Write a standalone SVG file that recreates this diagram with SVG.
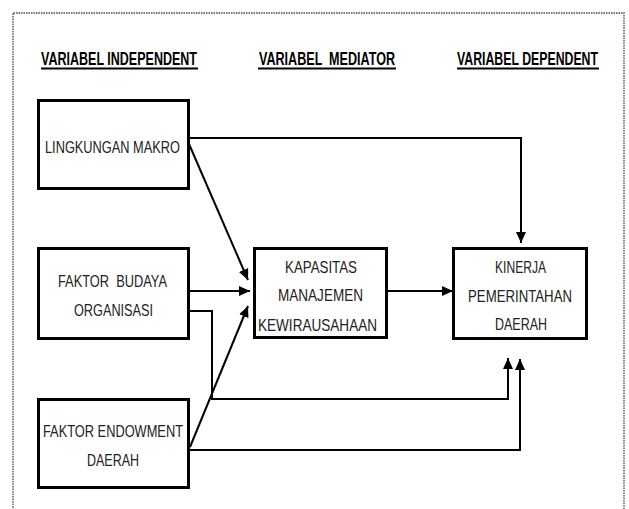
<svg xmlns="http://www.w3.org/2000/svg" width="629" height="509" viewBox="0 0 629 509">
<style>
.hdr{font-family:"Liberation Sans","Open Sans",sans-serif;font-weight:bold;font-size:18px;fill:#000;white-space:pre}
.ul{stroke:#000;stroke-width:2.2}
.box{fill:#fff;stroke:#000;stroke-width:3}
.lbl{font-family:"Liberation Sans","Open Sans",sans-serif;font-size:17px;fill:#222;text-anchor:middle}
.con{fill:none;stroke:#000;stroke-width:2}
</style>
<defs>
<marker id="ah" markerUnits="userSpaceOnUse" markerWidth="12" markerHeight="10" refX="11" refY="5" orient="auto">
<path d="M0,0 L11,5 L0,10 Z" fill="#000"/>
</marker>
</defs>
<rect width="629" height="509" fill="#fff"/>
<path d="M13,520 V13 H624 V520" fill="none" stroke="#444" stroke-width="1.3" stroke-dasharray="1.5,1"/>
<g id="headers">
<text class="hdr" x="41" y="65" textLength="156" lengthAdjust="spacingAndGlyphs">VARIABEL INDEPENDENT</text>
<line class="ul" x1="41" y1="68.5" x2="198" y2="68.5"/>
<text class="hdr" x="259" y="65" textLength="136" lengthAdjust="spacingAndGlyphs">VARIABEL  MEDIATOR</text>
<line class="ul" x1="258" y1="68.5" x2="396" y2="68.5"/>
<text class="hdr" x="457" y="65" textLength="141" lengthAdjust="spacingAndGlyphs">VARIABEL DEPENDENT</text>
<line class="ul" x1="457" y1="68.5" x2="599" y2="68.5"/>
</g>
<g id="connectors">
<path class="con" d="M189,138 H521 V243" marker-end="url(#ah)"/>
<path class="con" d="M189,144 L248,280" marker-end="url(#ah)"/>
<path class="con" d="M189,291 H250" marker-end="url(#ah)"/>
<path class="con" d="M189,311 H212 V399 H508 V358" marker-end="url(#ah)"/>
<path class="con" d="M190,447 L248,306" marker-end="url(#ah)"/>
<path class="con" d="M190,450 H520 V359" marker-end="url(#ah)"/>
<path class="con" d="M387,291 H453" marker-end="url(#ah)"/>
</g>
<g id="lingkungan">
<rect class="box" x="38.5" y="100.5" width="150" height="88"/>
<text class="lbl" x="112.5" y="153" textLength="135" lengthAdjust="spacingAndGlyphs">LINGKUNGAN MAKRO</text>
</g>
<g id="budaya">
<rect class="box" x="38.5" y="248.5" width="150" height="90"/>
<text class="lbl" x="112.5" y="287" textLength="109" lengthAdjust="spacingAndGlyphs" style="white-space:pre">FAKTOR  BUDAYA</text>
<text class="lbl" x="113.5" y="316" textLength="79" lengthAdjust="spacingAndGlyphs">ORGANISASI</text>
</g>
<g id="endowment">
<rect class="box" x="38.5" y="399.5" width="150" height="88"/>
<text class="lbl" x="113" y="437" textLength="140" lengthAdjust="spacingAndGlyphs">FAKTOR ENDOWMENT</text>
<text class="lbl" x="113" y="466" textLength="52" lengthAdjust="spacingAndGlyphs">DAERAH</text>
</g>
<g id="kapasitas">
<rect class="box" x="254.5" y="248.5" width="132" height="89"/>
<text class="lbl" x="321" y="273" textLength="72" lengthAdjust="spacingAndGlyphs">KAPASITAS</text>
<text class="lbl" x="320.5" y="301" textLength="85" lengthAdjust="spacingAndGlyphs">MANAJEMEN</text>
<text class="lbl" x="317.5" y="331" textLength="119" lengthAdjust="spacingAndGlyphs">KEWIRAUSAHAAN</text>
</g>
<g id="kinerja">
<rect class="box" x="453.5" y="248.5" width="133" height="90"/>
<text class="lbl" x="520.5" y="273" textLength="51" lengthAdjust="spacingAndGlyphs">KINERJA</text>
<text class="lbl" x="520" y="302" textLength="104" lengthAdjust="spacingAndGlyphs">PEMERINTAHAN</text>
<text class="lbl" x="521" y="330" textLength="52" lengthAdjust="spacingAndGlyphs">DAERAH</text>
</g>
</svg>
